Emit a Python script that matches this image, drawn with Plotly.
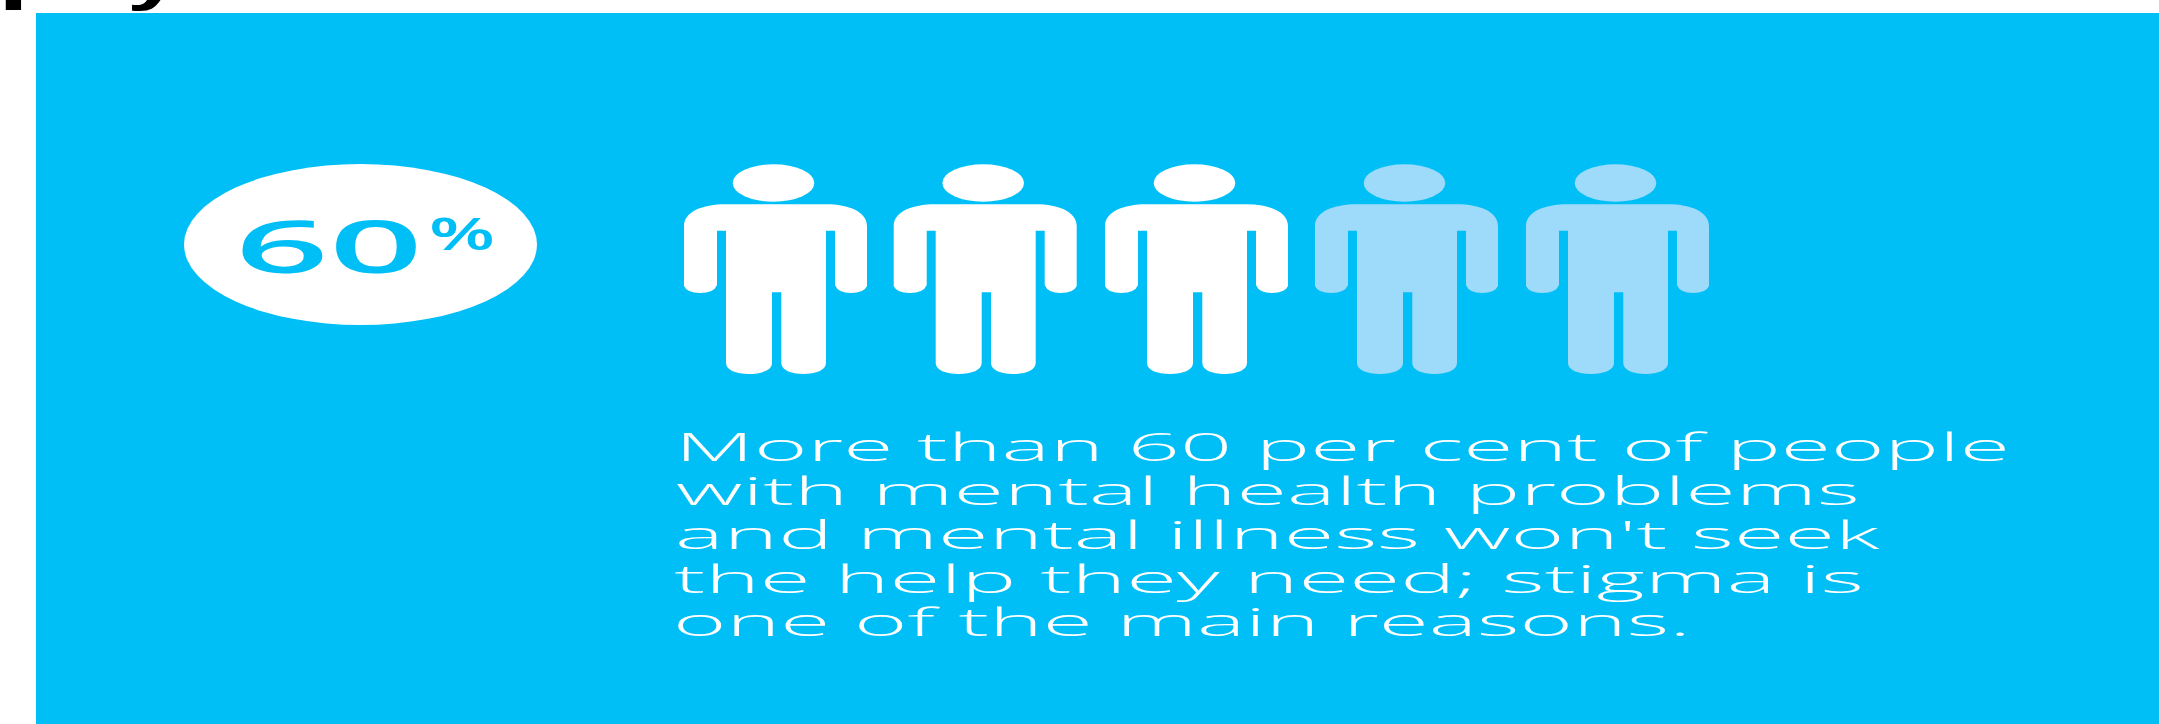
import json
import plotly.graph_objects as go

# Figures and wording of the panel
share_percent = 60
people_total = 5
value_label = "60"
percent_sign = "%"
body_lines = [
    "More than 60 per cent of people",
    "with mental health problems",
    "and mental illness won't seek",
    "the help they need; stigma is",
    "one of the main reasons.",
]
heading_bits = ["p", "y"]

# Page layout, in pixels
WIDTH, HEIGHT = 2159, 724
PANEL = "#00BFF6"
WHITE = "#FFFFFF"
FADED = "#9EDBFA"
person_left = [684, 893.7, 1105, 1315, 1526]
line_left = [683, 684, 683, 682, 681]
line_right = [2018, 1868, 1888, 1872, 1699]
line_base = [461.7, 505.7, 549.3, 593, 636.7]


def person_path(x0):
    """Outline of one figure's body, from the left edge x0 of the arms."""
    def p(x, y):
        return f"{x0 + x:.1f},{y:.1f}"
    return " ".join([
        "M", p(0, 226), "C", p(0, 212), p(18, 204.3), p(42, 204.3),
        "L", p(142, 204.3), "C", p(165, 204.3), p(183, 212), p(183, 226),
        "L", p(183, 286), "Q", p(180, 293), p(167, 293), "Q", p(154, 293), p(151, 285),
        "L", p(151, 230.7), "L", p(142, 230.7), "L", p(142, 363),
        "C", p(142, 370), p(132, 374), p(119.5, 374), "C", p(107, 374), p(97.3, 370), p(97.3, 363),
        "L", p(97.3, 292.3), "L", p(88, 292.3), "L", p(88, 363),
        "C", p(88, 370), p(78, 374), p(65, 374), "C", p(52, 374), p(42, 370), p(42, 363),
        "L", p(42, 230.7), "L", p(33, 230.7), "L", p(33, 285),
        "Q", p(30, 293), p(16, 293), "Q", p(3, 293), p(0, 286), "Z",
    ])


shapes = [
    dict(type="rect", x0=36, x1=WIDTH, y0=13, y1=HEIGHT, fillcolor=PANEL, line_width=0, layer="below"),
    dict(type="circle", x0=184, x1=537, y0=164, y1=325, fillcolor=WHITE, line_width=0),
]
filled = round(share_percent / 100 * people_total)
for i, left in enumerate(person_left[:people_total]):
    colour = WHITE if i < filled else FADED
    shapes.append(dict(type="circle", x0=left + 48.7, x1=left + 130.3, y0=164.3, y1=201.7,
                       fillcolor=colour, line_width=0))
    shapes.append(dict(type="path", path=person_path(left), fillcolor=colour, line_width=0))

annotations = []
spans = []


def add_text(text, left, right, y, size, colour, family, weight=400):
    annotations.append(dict(
        x=left, y=y, xref="x", yref="y", text=text, showarrow=False,
        xanchor="left", yanchor="bottom", borderpad=0,
        font=dict(family=family, size=size, color=colour, weight=weight),
    ))
    spans.append([left, right])


add_text(heading_bits[0], 6, 74, 12, 60, "#000000", "Liberation Sans", 700)
add_text(heading_bits[1], 135, 190, 13, 60, "#000000", "Liberation Sans", 700)
add_text(value_label, 243, 431, 295, 72, PANEL, "Open Sans", 600)
add_text(percent_sign, 437, 503, 264, 45, PANEL, "Open Sans", 600)
for text, left, right, base in zip(body_lines, line_left, line_right, line_base):
    add_text(text, left, right, base + 11.5, 39, WHITE, "Open Sans", 300)

fig = go.Figure()
fig.update_layout(
    width=WIDTH, height=HEIGHT, margin=dict(l=0, r=0, t=0, b=0),
    paper_bgcolor=WHITE, plot_bgcolor=WHITE, showlegend=False,
    xaxis=dict(range=[0, WIDTH], visible=False, fixedrange=True),
    yaxis=dict(range=[HEIGHT, 0], visible=False, fixedrange=True),
    shapes=shapes, annotations=annotations,
)

# The lettering is set wide: each text is stretched horizontally to its span.
stretch_js = """
var gd = document.getElementById('{plot_id}');
var spans = %s;
function stretchText() {
  gd.querySelectorAll('g.annotation').forEach(function (g) {
    var span = spans[+g.getAttribute('data-index')];
    var t = g.querySelector('text.annotation-text');
    if (!span || !t) return;
    t.removeAttribute('transform');
    var box = t.getBBox(), rect = t.getBoundingClientRect();
    var sx = (span[1] - span[0]) / box.width;
    var x0 = box.x + (span[0] - rect.left);
    t.setAttribute('transform', 'matrix(' + sx + ' 0 0 1 ' + (x0 - sx * box.x) + ' 0)');
  });
}
stretchText();
gd.on('plotly_afterplot', stretchText);
""" % json.dumps(spans)

fig.write_html("out.html", post_script=stretch_js, config={"displayModeBar": False})
